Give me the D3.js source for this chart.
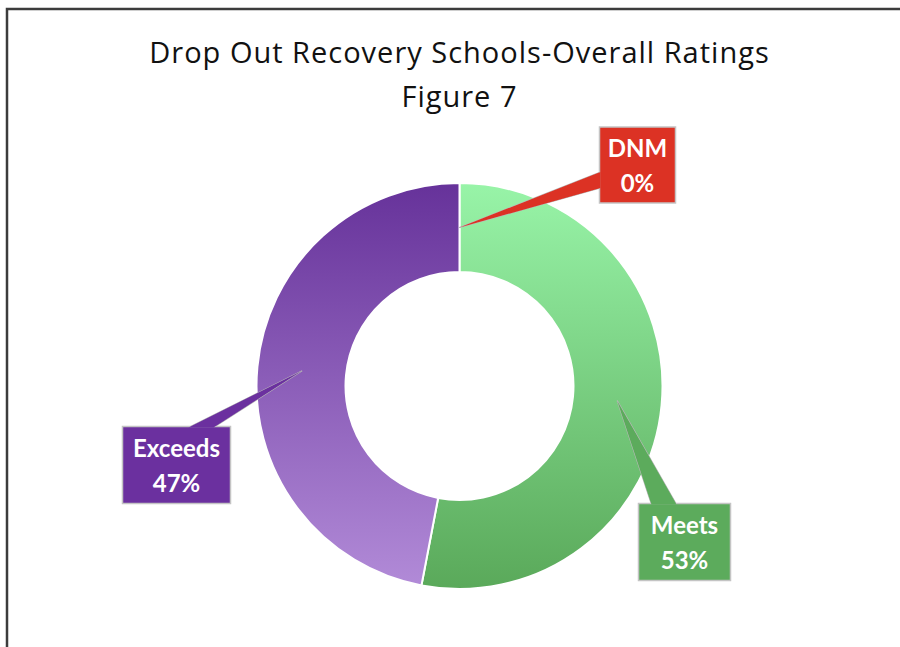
<!DOCTYPE html>
<html>
<head>
<meta charset="utf-8">
<script src="https://cdn.jsdelivr.net/npm/d3@7"></script>
<style>
	html, body { margin: 0; padding: 0; background: #fff; }
	svg { display: block; }
</style>
</head>
<body>
<div id="chart"></div>
<script>
// chart data
const titleLines = ["Drop Out Recovery Schools-Overall Ratings", "Figure 7"]
const categories = ["DNM", "Meets", "Exceeds"]
const values     = [0, 53, 47]
const percentLabels = ["0%", "53%", "47%"]

// colours per category: [top of gradient, bottom of gradient, label box]
const sliceTop    = ["#e0392b", "#98f4a8", "#66329a"]
const sliceBottom = ["#d42e22", "#5aa95a", "#b28bd8"]
const boxFill     = ["#dc3224", "#5cab5c", "#6b309f"]

// label box layout (box centre offsets from the chart centre, box size)
const boxCentre = [[178, -221], [225, 156], [-283, 79]]
const boxSize   = [[76, 76], [92, 77], [108, 77]]
// pointer base: which edge and the span along it (relative to box centre)
const pointerEdge = ["left", "top", "top"]
const pointerSpan = [[7, 23], [-33, -8], [12, 37]]

const width = 900, height = 647
const cx = 459.5, cy = 386
const outerR = 203, innerR = 114

const svg = d3.select("#chart").append("svg")
	.attr("width", width)
	.attr("height", height)

// outer frame of the chart area
svg.append("rect")
	.attr("x", 7).attr("y", 9)
	.attr("width", width + 20).attr("height", height + 20)
	.attr("fill", "#fff")
	.attr("stroke", "#3c3c3c")
	.attr("stroke-width", 2.5)

// title
svg.append("g").selectAll("text")
	.data(titleLines)
	.join("text")
	.attr("x", cx)
	.attr("y", (d, i) => 63 + i * 44)
	.attr("text-anchor", "middle")
	.style("font-family", "'Open Sans', Lato, sans-serif")
	.style("font-size", "29px")
	.style("letter-spacing", "1px")
	.style("fill", "#111")
	.text(d => d)

// gradients (in the donut group's coordinates)
const defs = svg.append("defs")
categories.forEach((c, i) => {
	const g = defs.append("linearGradient")
		.attr("id", "grad" + i)
		.attr("gradientUnits", "userSpaceOnUse")
		.attr("x1", 0).attr("x2", 0)
		.attr("y1", -outerR).attr("y2", outerR)
	g.append("stop").attr("offset", "0%").attr("stop-color", sliceTop[i])
	g.append("stop").attr("offset", "100%").attr("stop-color", sliceBottom[i])
})

const pie = d3.pie().sort(null).value(d => d)
const arc = d3.arc().innerRadius(innerR).outerRadius(outerR)
const arcs = pie(values)

const donut = svg.append("g")
	.attr("transform", "translate(" + cx + "," + cy + ")")

donut.selectAll("path")
	.data(arcs)
	.join("path")
	.attr("d", arc)
	.attr("fill", (d, i) => "url(#grad" + i + ")")
	.attr("stroke", "#fff")
	.attr("stroke-width", 2)

// callout labels
const labels = donut.append("g")
arcs.forEach((d, i) => {
	const tip = arc.centroid(d)
	const [bx, by] = boxCentre[i]
	const [bw, bh] = boxSize[i]
	const left = bx - bw / 2, top = by - bh / 2
	const [s0, s1] = pointerSpan[i]

	let base
	if (pointerEdge[i] == "top") {
		base = [[bx + s0, top + 1], [bx + s1, top + 1]]
	} else {
		base = [[left + 1, by + s0], [left + 1, by + s1]]
	}
	const pointer = "M" + tip[0] + "," + tip[1] + "L" + base[0].join(",") + "L" + base[1].join(",") + "Z"

	const lg = labels.append("g")

	lg.append("path")
		.attr("d", pointer)
		.attr("fill", boxFill[i])
		.attr("stroke", "#b8b8b8")
		.attr("stroke-width", 1.2)
		.attr("stroke-linejoin", "round")

	lg.append("rect")
		.attr("x", left).attr("y", top)
		.attr("width", bw).attr("height", bh)
		.attr("fill", boxFill[i])
		.attr("stroke", "#c4c4c4")
		.attr("stroke-width", 1.5)

	// redraw pointer over the box border so they join
	lg.append("path")
		.attr("d", pointer)
		.attr("fill", boxFill[i])

	lg.selectAll("text")
		.data([categories[i], percentLabels[i]])
		.join("text")
		.attr("x", bx)
		.attr("y", (t, k) => by - 8 + k * 35)
		.attr("text-anchor", "middle")
		.style("font-family", "Lato, 'Open Sans', sans-serif")
		.style("font-weight", "bold")
		.style("font-size", "24px")
		.style("fill", "#fff")
		.text(t => t)
})
</script>
</body>
</html>
